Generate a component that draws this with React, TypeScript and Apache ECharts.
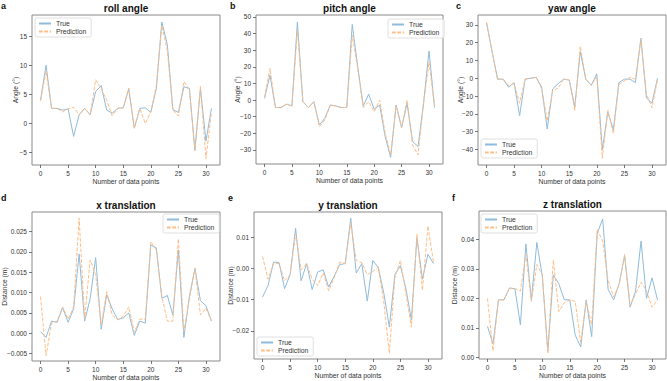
import React, { useEffect, useRef } from "react";
import * as echarts from "echarts";

// Sample index along the x axis (0..31)
const pointIndex = Array.from({ length: 32 }, (_, i) => i);

// a: roll angle (°)
const rollTrue = [4, 10, 2.6, 2.6, 2.3, 2.5, -2.2, 1.5, 2.6, 1.5, 5.5, 6.5, 2.3, 1.8, 2.6, 2.7, 5.9, -0.8, 2.6, 2.7, 1.9, 6, 17.4, 13.5, 2.4, 1.9, 6.3, 6, -4.6, 6, -3, 2.6];
const rollPred = [3.9, 9, 2.6, 2.6, 2.0, 2.5, 2.8, 1.5, 2.6, 1.5, 7.5, 6.0, 4.0, 1.3, 2.6, 2.7, 6.1, -0.8, 2.6, 0, 2.0, 6.5, 16.8, 12.5, 2.3, 1.3, 7.2, 5.8, -4.6, 6.4, -6, 2.0];

// b: pitch angle (°)
const pitchTrue = [1, 15, -4.5, -4.5, -2.5, -3.5, 47, -1, -4.5, -1, -15, -11, -3, -3.5, -4.5, -4.5, 45.5, 20, -3.5, 3.5, -5.5, -3, -22, -34.5, -3, -16.5, -2, -25, -28, -2, 29.5, -4.5];
const pitchPred = [1.5, 19, -4.5, -4.5, -2.5, -3.5, 42, -1, -4.5, -1, -16, -12, -3, -3.5, -4.5, -4.5, 39, 19, -4.5, -1, -7, 0, -20, -33, -3.5, -16.5, 0, -27, -33, -2, 23, -3.5];

// c: yaw angle (°)
const yawTrue = [31, 15, -0.5, -0.5, -5, -2.5, -21, -0.5, 0, 0.5, -5, -28.5, -6, -3, -0.5, -1, -16, 15, -0.5, -4, 2.5, -40, -19, -29, -2.5, -0.5, -0.5, -2.5, 22.5, -11, -14, 0];
const yawPred = [31.5, 15, -0.5, -0.5, -4, -3, -14, -0.5, 0, 0.5, -6, -24, -7, -5.5, -0.5, -1, -18, 18, -0.5, -4, 1, -45, -18, -31, -3.5, -1.5, 0.5, -0.5, 22, -9, -16.5, -1];

// d: x translation (m)
const xTrue = [0.0004, -0.001, 0.003, 0.0027, 0.0063, 0.0027, 0.006, 0.0195, 0.003, 0.0085, 0.0186, 0.001, 0.0095, 0.006, 0.0034, 0.0038, 0.005, -0.0005, 0.003, 0.0025, 0.0217, 0.021, 0.0086, 0.0093, 0.0045, 0.0205, -0.001, 0.009, 0.016, 0.008, 0.0068, 0.003];
const xPred = [0.009, -0.0055, 0.0025, 0.003, 0.0065, 0.0035, 0.0065, 0.0283, 0.0035, 0.018, 0.0145, 0.002, 0.0102, 0.0045, 0.0033, 0.0042, 0.0065, 0.0003, 0.0035, 0.0035, 0.0225, 0.0205, 0.009, 0.003, 0.003, 0.0232, 0.0005, 0.0085, 0.016, 0.0045, 0.0062, 0.003];

// e: y translation (m)
const yTrue = [-0.0092, -0.0055, 0.002, 0.0018, -0.0065, -0.002, 0.0128, -0.004, 0.0015, -0.0068, -0.0012, -0.0005, -0.006, -0.0025, 0.0012, 0.0015, 0.016, -0.0015, 0.0015, -0.0105, 0.0025, 0.0002, -0.008, -0.0188, -0.002, 0.0008, -0.0065, -0.0165, 0.0098, -0.0035, 0.0045, 0.0015];
const yPred = [0.0038, -0.0035, 0.0015, 0.0015, -0.004, -0.002, 0.011, -0.0005, 0.0015, -0.0035, -0.0055, -0.0015, -0.0072, -0.003, 0.002, 0.0015, 0.0145, 0.0025, 0.0018, -0.002, -0.001, 0.0005, -0.011, -0.0272, -0.003, 0.0025, -0.008, -0.0188, 0.011, -0.007, 0.0135, 0.002];

// f: z translation (m)
const zTrue = [0.0105, 0.0045, 0.0195, 0.0195, 0.0235, 0.0233, 0.011, 0.0385, 0.0195, 0.039, 0.0275, 0.002, 0.028, 0.025, 0.0195, 0.0195, 0.0075, 0.0035, 0.0195, 0.007, 0.042, 0.047, 0.023, 0.0195, 0.025, 0.0345, 0.017, 0.0225, 0.0395, 0.02, 0.027, 0.0195];
const zPred = [0.02, 0.0022, 0.0195, 0.0195, 0.0235, 0.0233, 0.0225, 0.035, 0.019, 0.0315, 0.028, 0.0015, 0.033, 0.0155, 0.0185, 0.0195, 0.019, 0.005, 0.019, 0.011, 0.0435, 0.0395, 0.026, 0.0205, 0.0245, 0.035, 0.0175, 0.0215, 0.0255, 0.0225, 0.017, 0.0195];

// Tick values
const xTicks = [0, 5, 10, 15, 20, 25, 30];
const rollTicks = [-5, 0, 5, 10, 15];
const pitchTicks = [-30, -20, -10, 0, 10, 20, 30, 40, 50];
const yawTicks = [-40, -30, -20, -10, 0, 10, 20, 30];
const xTransTicks = [-0.005, 0, 0.005, 0.01, 0.015, 0.02, 0.025];
const yTransTicks = [-0.02, -0.01, 0, 0.01];
const zTransTicks = [0, 0.01, 0.02, 0.03, 0.04];

const X_TITLE = "Number of data points";

const FONT = "'Liberation Sans', Arial, Helvetica, sans-serif";
const TRUE_COLOR = "#8fbbdc";
const PRED_COLOR = "#ffbd86";
const TEXT_COLOR = "#333333";

type Panel = {
  letter: string;
  title: string;
  yName: string;
  truth: number[];
  pred: number[];
  ticks: number[];
  yMin: number;
  yMax: number;
  decimals: number;
  grid: { left: number; top: number; width: number; height: number };
  legend: { left: number; top: number };
  yNameX: number;
  letterPos: [number, number];
};

const panels: Panel[] = [
  {
    letter: "a", title: "roll angle", yName: "Angle (°)", truth: rollTrue, pred: rollPred,
    ticks: rollTicks, yMin: -7.1, yMax: 18.6, decimals: 0,
    grid: { left: 32, top: 15, width: 188, height: 150 },
    legend: { left: 35, top: 18 }, yNameX: 15.7, letterPos: [1, 1],
  },
  {
    letter: "b", title: "pitch angle", yName: "Angle (°)", truth: pitchTrue, pred: pitchPred,
    ticks: pitchTicks, yMin: -38.5, yMax: 51.2, decimals: 0,
    grid: { left: 256, top: 15, width: 187, height: 149 },
    legend: { left: 388, top: 19 }, yNameX: 237, letterPos: [230, 1],
  },
  {
    letter: "c", title: "yaw angle", yName: "Angle (°)", truth: yawTrue, pred: yawPred,
    ticks: yawTicks, yMin: -48.7, yMax: 35.5, decimals: 0,
    grid: { left: 478, top: 15, width: 188, height: 150 },
    legend: { left: 481, top: 139 }, yNameX: 460.7, letterPos: [456, 1],
  },
  {
    letter: "d", title: "x translation", yName: "Distance (m)", truth: xTrue, pred: xPred,
    ticks: xTransTicks, yMin: -0.0068, yMax: 0.0298, decimals: 3,
    grid: { left: 32, top: 212, width: 188, height: 149 },
    legend: { left: 163, top: 214 }, yNameX: 4, letterPos: [1, 193],
  },
  {
    letter: "e", title: "y translation", yName: "Distance (m)", truth: yTrue, pred: yPred,
    ticks: yTransTicks, yMin: -0.029, yMax: 0.018, decimals: 2,
    grid: { left: 254, top: 212, width: 188, height: 147 },
    legend: { left: 257, top: 337 }, yNameX: 230, letterPos: [228, 193],
  },
  {
    letter: "f", title: "z translation", yName: "Distance (m)", truth: zTrue, pred: zPred,
    ticks: zTransTicks, yMin: -0.0006, yMax: 0.0497, decimals: 2,
    grid: { left: 479, top: 211, width: 187, height: 148 },
    legend: { left: 481, top: 214 }, yNameX: 454, letterPos: [452, 193],
  },
];

const fmt = (v: number, d: number) => v.toFixed(d).replace("-", "\u2212");

function axisBase(ticks: number[], decimals: number) {
  return {
    type: "value",
    axisLine: { show: false, onZero: false },
    splitLine: { show: false },
    axisTick: {
      show: true,
      inside: false,
      length: 3,
      customValues: ticks,
      lineStyle: { color: "#555", width: 0.8 },
    },
    axisLabel: {
      customValues: ticks,
      margin: 5,
      fontSize: 6.5,
      color: TEXT_COLOR,
      fontFamily: FONT,
      formatter: (v: number) => fmt(v, decimals),
    },
  };
}

function label(text: string, x: number, y: number, rotate = 0) {
  return {
    type: "text",
    x,
    y,
    rotation: rotate,
    style: {
      text,
      fontSize: 6.8,
      fontFamily: FONT,
      fill: TEXT_COLOR,
      align: "center",
      verticalAlign: "middle",
    },
  };
}

function buildOption() {
  const grid: any[] = [];
  const xAxis: any[] = [];
  const yAxis: any[] = [];
  const series: any[] = [];
  const legend: any[] = [];
  const graphic: any[] = [];

  panels.forEach((p, i) => {
    grid.push({
      ...p.grid,
      show: true,
      borderColor: "#8a8a8a",
      borderWidth: 1,
      backgroundColor: "transparent",
    });

    xAxis.push({ ...axisBase(xTicks, 0), gridIndex: i, min: -1.55, max: 32.55 });
    yAxis.push({ ...axisBase(p.ticks, p.decimals), gridIndex: i, min: p.yMin, max: p.yMax });

    series.push({
      type: "line",
      name: "True",
      xAxisIndex: i,
      yAxisIndex: i,
      data: pointIndex.map((k) => [k, p.truth[k]]),
      symbol: "none",
      lineStyle: { color: TRUE_COLOR, width: 1 },
      itemStyle: { color: TRUE_COLOR },
      z: 2,
    });
    series.push({
      type: "line",
      name: "Prediction",
      xAxisIndex: i,
      yAxisIndex: i,
      data: pointIndex.map((k) => [k, p.pred[k]]),
      symbol: "none",
      lineStyle: { color: PRED_COLOR, width: 1, type: [3.7, 1.6] },
      itemStyle: { color: PRED_COLOR },
      z: 3,
    });

    legend.push({
      data: ["True", "Prediction"],
      left: p.legend.left,
      top: p.legend.top,
      orient: "vertical",
      align: "left",
      itemWidth: 12,
      itemHeight: 8,
      itemGap: 1,
      padding: [2, 5, 2, 3],
      borderColor: "#d8d8d8",
      borderWidth: 0.8,
      borderRadius: 2,
      backgroundColor: "rgba(255,255,255,0.8)",
      selectedMode: false,
      itemStyle: { opacity: 0 },
      textStyle: { fontSize: 6.8, color: TEXT_COLOR, fontFamily: FONT },
    });

    const cx = p.grid.left + p.grid.width / 2;
    const cy = p.grid.top + p.grid.height / 2;
    graphic.push(label(X_TITLE, cx, p.grid.top + p.grid.height + 16));
    graphic.push(label(p.yName, p.yNameX, cy, Math.PI / 2));

    graphic.push({
      type: "text",
      x: cx,
      y: p.grid.top - 12,
      style: {
        text: p.title,
        fontSize: 10,
        fontWeight: "bold",
        fontFamily: FONT,
        fill: "#111",
        align: "center",
        verticalAlign: "top",
      },
    });
    graphic.push({
      type: "text",
      x: p.letterPos[0],
      y: p.letterPos[1],
      style: {
        text: p.letter,
        fontSize: 9,
        fontWeight: "bold",
        fontFamily: FONT,
        fill: "#111",
        align: "left",
        verticalAlign: "top",
      },
    });
  });

  return {
    animation: false,
    backgroundColor: "#ffffff",
    grid,
    xAxis,
    yAxis,
    series,
    legend,
    graphic,
  };
}

export default function App() {
  const ref = useRef<HTMLDivElement>(null);

  useEffect(() => {
    if (!ref.current) return;
    const chart = echarts.init(ref.current, null, { renderer: "svg" });
    chart.setOption(buildOption());
    return () => chart.dispose();
  }, []);

  return (
    <div
      ref={ref}
      style={{ position: "absolute", left: 0, top: 0, width: 667, height: 381 }}
    />
  );
}
